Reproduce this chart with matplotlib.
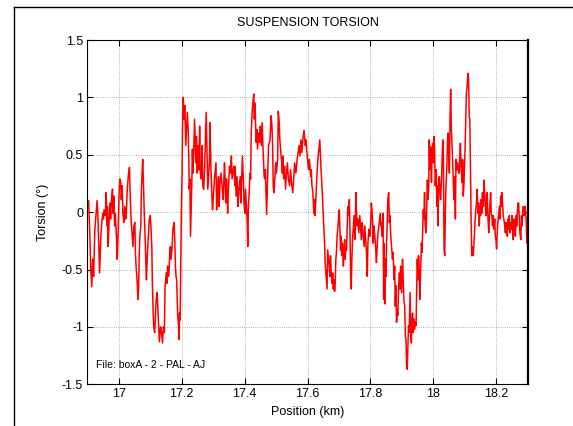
import matplotlib
matplotlib.use("Agg")
import matplotlib.pyplot as plt
from matplotlib.ticker import FormatStrFormatter
from matplotlib.lines import Line2D

plt.rcParams['font.family'] = ['Liberation Sans', 'DejaVu Sans']
plt.rcParams['axes.unicode_minus'] = False

pos_km = [
    16.900, 16.904, 16.908, 16.911, 16.914, 16.917, 16.920, 16.924, 16.931, 16.934,
    16.937, 16.939, 16.941, 16.943, 16.946, 16.949, 16.951, 16.953, 16.957, 16.960,
    16.962, 16.964, 16.966, 16.968, 16.970, 16.972, 16.974, 16.977, 16.980, 16.982,
    16.984, 16.987, 16.989, 16.993, 16.995, 16.997, 16.999, 17.001, 17.003, 17.006,
    17.008, 17.011, 17.013, 17.016, 17.019, 17.022, 17.024, 17.027, 17.031, 17.034,
    17.036, 17.039, 17.042, 17.045, 17.048, 17.051, 17.053, 17.055, 17.058, 17.061,
    17.063, 17.065, 17.067, 17.070, 17.072, 17.076, 17.078, 17.081, 17.084, 17.086,
    17.088, 17.091, 17.094, 17.097, 17.100, 17.102, 17.105, 17.107, 17.109, 17.111,
    17.114, 17.117, 17.119, 17.122, 17.125, 17.127, 17.129, 17.133, 17.136, 17.139,
    17.142, 17.145, 17.147, 17.149, 17.151, 17.153, 17.155, 17.159, 17.162, 17.164,
    17.166, 17.169, 17.172, 17.174, 17.176, 17.178, 17.180, 17.182, 17.184, 17.187,
    17.190, 17.192, 17.193, 17.195, 17.197, 17.199, 17.201, 17.203, 17.205, 17.207,
    17.210, 17.213, 17.218, 17.221, 17.224, 17.226, 17.228, 17.230, 17.232, 17.234,
    17.236, 17.239, 17.241, 17.245, 17.247, 17.249, 17.252, 17.255, 17.257, 17.259,
    17.262, 17.265, 17.267, 17.270, 17.273, 17.278, 17.280, 17.283, 17.286, 17.288,
    17.290, 17.293, 17.296, 17.298, 17.304, 17.309, 17.311, 17.314, 17.317, 17.319,
    17.322, 17.325, 17.329, 17.332, 17.336, 17.338, 17.340, 17.343, 17.346, 17.348,
    17.352, 17.355, 17.358, 17.360, 17.366, 17.369, 17.370, 17.373, 17.376, 17.379,
    17.382, 17.386, 17.388, 17.390, 17.393, 17.396, 17.398, 17.401, 17.403, 17.406,
    17.408, 17.410, 17.412, 17.414, 17.417, 17.419, 17.421, 17.424, 17.427, 17.429,
    17.431, 17.433, 17.435, 17.437, 17.439, 17.441, 17.445, 17.448, 17.450, 17.453,
    17.456, 17.458, 17.460, 17.462, 17.464, 17.466, 17.468, 17.470, 17.473, 17.476,
    17.481, 17.484, 17.487, 17.489, 17.491, 17.493, 17.496, 17.499, 17.501, 17.505,
    17.507, 17.510, 17.512, 17.515, 17.518, 17.520, 17.522, 17.524, 17.527, 17.530,
    17.533, 17.536, 17.539, 17.543, 17.546, 17.549, 17.553, 17.556, 17.559, 17.563,
    17.567, 17.570, 17.573, 17.576, 17.579, 17.582, 17.586, 17.589, 17.593, 17.595,
    17.599, 17.603, 17.606, 17.610, 17.612, 17.614, 17.617, 17.620, 17.622, 17.624,
    17.628, 17.631, 17.633, 17.636, 17.639, 17.641, 17.643, 17.647, 17.650, 17.652,
    17.654, 17.656, 17.659, 17.662, 17.664, 17.667, 17.669, 17.671, 17.673, 17.675,
    17.678, 17.680, 17.682, 17.684, 17.686, 17.688, 17.690, 17.692, 17.694, 17.697,
    17.699, 17.701, 17.703, 17.705, 17.707, 17.709, 17.711, 17.714, 17.716, 17.718,
    17.720, 17.722, 17.724, 17.726, 17.728, 17.731, 17.733, 17.735, 17.737, 17.739,
    17.741, 17.743, 17.745, 17.748, 17.750, 17.752, 17.754, 17.756, 17.758, 17.760,
    17.763, 17.766, 17.769, 17.771, 17.774, 17.776, 17.780, 17.782, 17.784, 17.787,
    17.790, 17.792, 17.795, 17.798, 17.801, 17.803, 17.806, 17.809, 17.811, 17.814,
    17.817, 17.819, 17.822, 17.824, 17.827, 17.831, 17.833, 17.835, 17.837, 17.840,
    17.842, 17.843, 17.846, 17.848, 17.850, 17.851, 17.853, 17.855, 17.858, 17.860,
    17.862, 17.864, 17.867, 17.870, 17.872, 17.875, 17.877, 17.879, 17.881, 17.883,
    17.885, 17.887, 17.889, 17.892, 17.894, 17.896, 17.899, 17.902, 17.904, 17.906,
    17.909, 17.911, 17.913, 17.915, 17.917, 17.919, 17.921, 17.923, 17.926, 17.928,
    17.930, 17.932, 17.934, 17.936, 17.938, 17.940, 17.943, 17.945, 17.947, 17.949,
    17.951, 17.953, 17.955, 17.957, 17.960, 17.962, 17.964, 17.966, 17.968, 17.970,
    17.972, 17.974, 17.977, 17.979, 17.981, 17.983, 17.985, 17.987, 17.989, 17.991,
    17.994, 17.996, 17.998, 18.000, 18.002, 18.004, 18.006, 18.009, 18.011, 18.013,
    18.015, 18.017, 18.019, 18.021, 18.023, 18.026, 18.028, 18.030, 18.032, 18.034,
    18.036, 18.038, 18.040, 18.043, 18.045, 18.047, 18.049, 18.051, 18.053, 18.055,
    18.057, 18.060, 18.062, 18.064, 18.066, 18.068, 18.070, 18.072, 18.074, 18.077,
    18.080, 18.082, 18.084, 18.086, 18.088, 18.091, 18.093, 18.095, 18.097, 18.099,
    18.101, 18.103, 18.105, 18.108, 18.110, 18.112, 18.114, 18.116, 18.118, 18.120,
    18.122, 18.125, 18.127, 18.129, 18.131, 18.133, 18.135, 18.137, 18.139, 18.142,
    18.144, 18.146, 18.148, 18.150, 18.152, 18.154, 18.156, 18.159, 18.161, 18.163,
    18.165, 18.167, 18.169, 18.171, 18.173, 18.176, 18.178, 18.180, 18.182, 18.184,
    18.186, 18.188, 18.190, 18.193, 18.195, 18.197, 18.199, 18.201, 18.203, 18.205,
    18.207, 18.210, 18.212, 18.214, 18.216, 18.218, 18.220, 18.222, 18.224, 18.227,
    18.229, 18.231, 18.233, 18.235, 18.237, 18.239, 18.241, 18.244, 18.246, 18.248,
    18.250, 18.252, 18.254, 18.256, 18.258, 18.261, 18.263, 18.265, 18.267, 18.269,
    18.271, 18.273, 18.275, 18.278, 18.280, 18.282, 18.284, 18.286, 18.288, 18.290,
    18.292, 18.295, 18.297, 18.299,
]

torsion_deg = [
    0.05, 0.10, -0.20, -0.50, -0.65, -0.41, -0.56, -0.15, 0.10, -0.06,
    -0.36, -0.53, -0.36, -0.21, -0.09, -0.01, -0.06, 0.02, -0.03, 0.17,
    -0.12, 0.05, -0.30, -0.18, -0.01, 0.08, -0.06, 0.11, 0.20, -0.01,
    0.14, -0.12, -0.01, -0.24, -0.41, -0.27, -0.06, 0.17, 0.29, 0.26,
    0.11, 0.23, -0.01, -0.09, 0.05, -0.06, -0.01, 0.20, 0.34, 0.39,
    0.17, -0.06, -0.18, -0.30, -0.12, -0.09, -0.36, -0.47, -0.59, -0.76,
    -0.65, -0.36, -0.21, -0.12, 0.20, 0.46, 0.29, -0.01, -0.24, -0.44,
    -0.59, -0.36, -0.21, -0.06, -0.03, -0.12, -0.30, -0.65, -0.85, -1.00,
    -1.05, -0.88, -0.76, -0.70, -0.88, -1.02, -1.13, -1.00, -1.05, -1.14,
    -1.00, -1.05, -0.65, -0.59, -0.53, -0.62, -0.47, -0.56, -0.36, -0.30,
    -0.41, -0.33, -0.15, -0.12, -0.09, -0.24, -0.47, -0.56, -0.59, -0.88,
    -1.00, -1.11, -0.88, -0.94, -0.44, 0.02, 0.31, 0.87, 1.00, 0.81,
    0.93, 0.58, 0.87, 0.69, 0.20, 0.29, -0.21, 0.02, 0.23, 0.55,
    0.34, 0.63, 0.81, 0.43, 0.66, 0.34, 0.58, 0.37, 0.75, 0.34,
    0.29, 0.58, 0.23, 0.20, 0.40, 0.87, 0.58, 0.20, 0.34, 0.43,
    0.78, 0.37, 0.14, 0.02, 0.29, 0.43, 0.02, 0.20, 0.31, 0.05,
    0.26, 0.34, 0.20, 0.11, 0.43, 0.29, 0.08, 0.29, -0.01, 0.17,
    0.40, 0.34, 0.49, 0.29, 0.40, 0.23, 0.40, 0.14, 0.31, 0.05,
    0.20, 0.31, 0.08, 0.23, 0.49, 0.29, 0.08, -0.01, 0.20, 0.05,
    -0.06, -0.30, 0.05, 0.14, 0.34, 0.29, 0.69, 0.87, 0.98, 1.03,
    0.81, 0.95, 0.75, 0.61, 0.72, 0.55, 0.69, 0.61, 0.75, 0.58,
    0.78, 0.58, 0.46, 0.31, 0.29, 0.37, 0.17, -0.02, 0.29, 0.58,
    0.63, 0.84, 0.75, 0.58, 0.23, 0.17, 0.29, 0.43, 0.34, 0.46,
    0.88, 0.78, 0.63, 0.52, 0.43, 0.34, 0.49, 0.29, 0.40, 0.20,
    0.34, 0.43, 0.29, 0.23, 0.37, 0.26, 0.17, 0.29, 0.43, 0.34,
    0.46, 0.52, 0.58, 0.49, 0.63, 0.52, 0.66, 0.71, 0.58, 0.63,
    0.49, 0.37, 0.46, 0.31, 0.37, 0.23, 0.17, -0.01, 0.11, -0.03,
    0.20, 0.37, 0.46, 0.55, 0.63, 0.49, 0.37, 0.17, -0.03, -0.15,
    -0.24, -0.44, -0.56, -0.67, -0.33, -0.41, -0.47, -0.56, -0.38, -0.50,
    -0.62, -0.53, -0.67, -0.59, -0.69, -0.62, -0.41, -0.35, -0.21, -0.12,
    -0.03, 0.02, -0.15, -0.33, -0.21, -0.38, -0.27, -0.47, -0.33, -0.24,
    -0.41, -0.30, -0.33, -0.15, 0.05, -0.03, 0.11, -0.18, -0.56, -0.67,
    -0.41, -0.24, -0.15, -0.03, -0.24, -0.09, 0.17, -0.03, -0.12, -0.06,
    -0.18, -0.03, -0.15, -0.24, -0.09, -0.18, -0.30, -0.12, -0.21, -0.33,
    -0.56, -0.27, -0.15, -0.21, -0.09, 0.08, -0.03, -0.27, -0.12, -0.21,
    -0.33, -0.44, -0.27, -0.18, -0.12, -0.01, -0.12, -0.09, -0.21, -0.01,
    -0.76, -0.27, -0.80, -0.41, -0.56, -0.30, -0.12, 0.11, 0.17, -0.09,
    -0.03, -0.18, -0.30, -0.41, -0.35, -0.59, -0.47, -0.82, -0.64, -0.96,
    -0.85, -0.90, -0.70, -0.53, -0.67, -0.47, -0.70, -0.41, -0.56, -0.76,
    -0.82, -1.08, -1.11, -1.34, -1.37, -1.17, -0.99, -1.05, -0.70, -1.05,
    -1.14, -0.93, -0.88, -1.05, -0.93, -1.02, -0.96, -0.99, -0.67, -0.41,
    -0.59, -0.38, -0.53, -0.76, -0.47, -0.27, -0.35, -0.18, 0.02, -0.06,
    0.17, -0.12, -0.18, 0.05, 0.28, 0.11, 0.20, 0.63, 0.37, 0.57,
    0.26, 0.52, 0.60, 0.43, 0.66, 0.54, 0.23, 0.37, 0.05, 0.23,
    -0.12, 0.26, 0.31, 0.20, 0.11, 0.28, 0.49, 0.63, 0.46, -0.32,
    -0.38, -0.03, 0.23, 0.40, 0.63, 0.69, 0.49, 0.34, 0.83, 1.07,
    0.75, 0.52, 0.37, 0.23, 0.11, 0.31, -0.06, 0.46, 0.37, 0.43,
    0.34, 0.34, 0.49, 0.60, 0.40, 0.26, 0.46, 0.14, 0.23, 0.40,
    0.57, 0.81, 1.04, 1.12, 1.21, 1.15, 0.83, 0.81, 0.37, -0.06,
    -0.38, -0.30, -0.38, -0.27, -0.15, -0.06, 0.02, 0.08, 0.20, -0.01,
    0.08, -0.12, 0.05, -0.03, 0.11, -0.01, 0.17, 0.05, 0.28, 0.17,
    0.08, -0.03, 0.05, 0.17, -0.01, -0.18, -0.03, 0.08, 0.17, -0.01,
    -0.03, -0.12, -0.03, -0.15, -0.06, -0.21, -0.24, -0.32, -0.18, -0.09,
    -0.03, 0.05, -0.06, 0.14, 0.05, 0.17, 0.08, -0.03, -0.06, -0.12,
    -0.18, -0.09, -0.12, -0.21, -0.06, -0.15, -0.03, -0.18, -0.09, -0.15,
    -0.03, -0.12, -0.24, -0.06, -0.15, -0.21, -0.03, -0.12, -0.01, 0.08,
    0.08, -0.06, -0.18, -0.24, -0.03, -0.12, -0.01, 0.05, -0.03, 0.02,
    0.05, -0.06, -0.27, -0.12,
]

fig = plt.figure(figsize=(5.73, 4.26), dpi=100)
ax = fig.add_axes([0.1524, 0.098, 0.7686, 0.808])

ax.plot(pos_km, torsion_deg, color='red', lw=1.1)

ax.set_xlim(16.9, 18.3)
ax.set_ylim(-1.5, 1.5)
ax.set_xticks([17.0, 17.2, 17.4, 17.6, 17.8, 18.0, 18.2])
ax.set_yticks([-1.5, -1.0, -0.5, 0.0, 0.5, 1.0, 1.5])
ax.xaxis.set_major_formatter(FormatStrFormatter('%g'))
ax.yaxis.set_major_formatter(FormatStrFormatter('%g'))
ax.tick_params(direction='in', length=4, width=0.8, labelsize=9,
               top=True, right=True, pad=3)
ax.grid(True, color='#999999', linestyle=':', linewidth=0.6)

for side in ['left', 'top', 'bottom']:
    ax.spines[side].set_linewidth(0.8)
ax.spines['right'].set_linewidth(1.6)

ax.set_title('SUSPENSION TORSION', fontsize=9, pad=10)
ax.set_xlabel('Position (km)', fontsize=9, labelpad=4)
ax.set_ylabel('Torsion (°)', fontsize=9, labelpad=9)

ax.text(16.928, -1.33, 'File: boxA - 2 - PAL - AJ', fontsize=7.5, va='center')

# outer frame lines (left and top)
fig.add_artist(Line2D([13.5 / 573, 13.5 / 573], [0, 1 - 6.7 / 426],
                      transform=fig.transFigure, color='black', lw=1.0))
fig.add_artist(Line2D([13.5 / 573, 1], [1 - 6.7 / 426, 1 - 6.7 / 426],
                      transform=fig.transFigure, color='black', lw=1.0))

fig.savefig('out.png', dpi=100)
